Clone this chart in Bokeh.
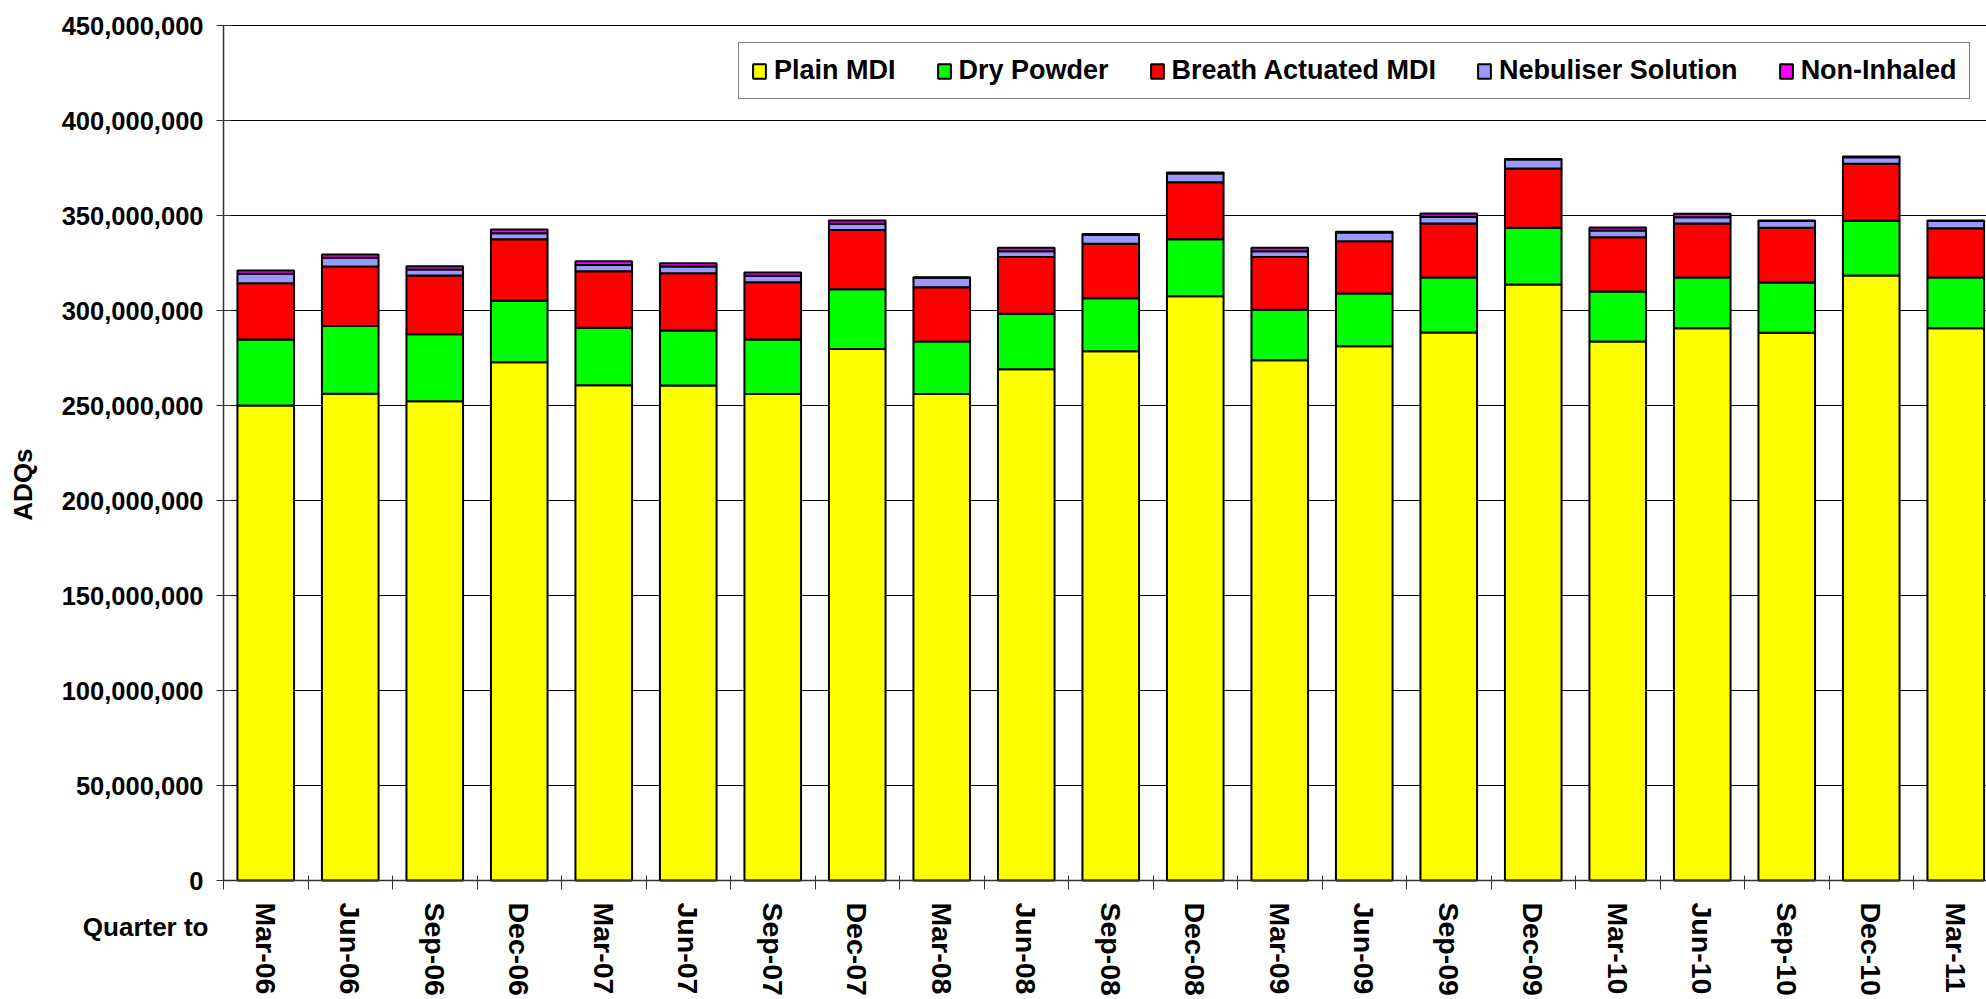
import math
from bokeh.plotting import figure
from bokeh.models import (Range1d, FixedTicker, NumeralTickFormatter, Label, Grid,
                          ColumnDataSource)
from bokeh.embed import file_html
from bokeh.resources import INLINE

quarters = ["Mar-06", "Jun-06", "Sep-06", "Dec-06", "Mar-07", "Jun-07", "Sep-07", "Dec-07",
            "Mar-08", "Jun-08", "Sep-08", "Dec-08", "Mar-09", "Jun-09", "Sep-09", "Dec-09",
            "Mar-10", "Jun-10", "Sep-10", "Dec-10", "Mar-11"]

# values in millions of ADQs
plain_mdi = [250.0, 256.2, 252.3, 272.8, 260.7, 260.5, 256.0, 279.8, 256.0, 269.1, 278.6,
             307.5, 273.8, 281.2, 288.4, 313.7, 283.7, 290.7, 288.3, 318.4, 290.7]
dry_powder = [34.7, 35.7, 35.2, 32.3, 30.2, 29.0, 28.7, 31.4, 27.7, 29.2, 27.9,
              30.0, 26.6, 27.7, 29.0, 29.8, 26.3, 26.7, 26.4, 28.8, 26.7]
breath_actuated = [29.7, 31.3, 30.9, 32.4, 29.8, 30.1, 30.2, 31.2, 28.6, 29.8, 28.6,
                   30.0, 27.7, 27.6, 28.4, 31.2, 28.6, 28.4, 28.8, 30.0, 25.9]
nebuliser = [4.9, 4.5, 3.2, 3.2, 3.3, 3.6, 3.4, 3.2, 5.0, 3.1, 4.8,
             4.6, 3.1, 4.6, 3.5, 4.8, 3.5, 3.3, 3.6, 3.5, 3.8]
non_inhaled = [1.8, 1.8, 1.7, 1.9, 1.9, 1.7, 1.7, 1.8, 0.2, 1.8, 0.3,
               0.5, 1.8, 0.4, 1.8, 0.3, 1.6, 1.8, 0.3, 0.4, 0.3]

series_names = ["Plain MDI", "Dry Powder", "Breath Actuated MDI", "Nebuliser Solution", "Non-Inhaled"]
series_values = [plain_mdi, dry_powder, breath_actuated, nebuliser, non_inhaled]
colors = ["#FFFF00", "#00FF00", "#FF0000", "#9999FF", "#FF00FF"]
y_ticks = [0, 50_000_000, 100_000_000, 150_000_000, 200_000_000, 250_000_000,
           300_000_000, 350_000_000, 400_000_000, 450_000_000]
y_title = "ADQs"
x_title = "Quarter to"

FONT = "Liberation Sans"
W, H = 1986, 999

# pixel geometry of the plotting area inside the picture
AX_LEFT, AX_BOTTOM, AX_TOP = 223, 880, 25
PX_PER_CAT = 84.5
Y_MAX = y_ticks[-1]
px_per_val = (AX_BOTTOM - AX_TOP) / Y_MAX

x0 = -0.5 - AX_LEFT / PX_PER_CAT
x1 = -0.5 + (W - AX_LEFT) / PX_PER_CAT
y0 = -(H - AX_BOTTOM) / px_per_val
y1 = AX_BOTTOM / px_per_val

xs = list(range(len(quarters)))
keys = ["s%d" % i for i in range(len(series_names))]
data = {"x": xs}
for k, vals in zip(keys, series_values):
    data[k] = [v * 1e6 for v in vals]
source = ColumnDataSource(data)

p = figure(width=W, height=H, output_backend="svg", toolbar_location=None,
           x_range=Range1d(x0, x1), y_range=Range1d(y0, y1),
           min_border_left=0, min_border_top=0, min_border_bottom=0, min_border_right=0)
p.outline_line_color = None
p.background_fill_color = "white"
p.border_fill_color = "white"

# grid lines only across the plotting area
has_cross = "cross_bounds" in Grid.properties()
p.xgrid.grid_line_color = None
if has_cross:
    p.ygrid.ticker = FixedTicker(ticks=y_ticks)
    p.ygrid.bounds = (0, Y_MAX)
    p.ygrid.cross_bounds = (-0.5, x1)
    p.ygrid.grid_line_color = "black"
    p.ygrid.grid_line_width = 1
else:
    p.ygrid.grid_line_color = None
    gl = p.segment(x0=[-0.5] * len(y_ticks), x1=[x1] * len(y_ticks), y0=y_ticks, y1=y_ticks,
                   line_color="black", line_width=1)
    gl.level = "underlay"

p.vbar_stack(keys, x="x", width=0.67, color=colors, line_color="black", line_width=2,
             source=source, legend_label=series_names)

# y axis, pinned at the left edge of the bars area
p.yaxis.fixed_location = -0.5
p.yaxis.bounds = (0, Y_MAX)
p.yaxis.ticker = FixedTicker(ticks=y_ticks)
p.yaxis.formatter = NumeralTickFormatter(format="0,0")
p.yaxis.major_label_text_font = FONT
p.yaxis.major_label_text_font_style = "bold"
p.yaxis.major_label_text_font_size = "25.5px"
p.yaxis.major_label_text_color = "black"
p.yaxis.major_tick_out = 7
p.yaxis.major_tick_in = 8
p.yaxis.major_label_standoff = 13
p.yaxis.minor_tick_line_color = None
p.yaxis.axis_line_color = "#333333"
p.yaxis.axis_line_width = 1.5
p.yaxis.major_tick_line_color = "#333333"

# x axis at value 0
p.xaxis.fixed_location = 0
p.xaxis.bounds = (-0.5, x1)
p.xaxis.ticker = FixedTicker(ticks=xs, minor_ticks=[i - 0.5 for i in range(len(quarters) + 1)])
p.xaxis.major_label_overrides = {i: q for i, q in zip(xs, quarters)}
p.xaxis.major_label_orientation = -math.pi / 2
p.xaxis.major_label_text_font = FONT
p.xaxis.major_label_text_font_style = "bold"
p.xaxis.major_label_text_font_size = "28.5px"
p.xaxis.major_label_text_color = "black"
p.xaxis.major_tick_out = 0
p.xaxis.major_tick_in = 0
p.xaxis.minor_tick_out = 9
p.xaxis.minor_tick_in = 5
p.xaxis.minor_tick_line_color = "#333333"
p.xaxis.major_label_standoff = 13
p.xaxis.axis_line_color = "#333333"
p.xaxis.axis_line_width = 1.5

# axis titles
p.add_layout(Label(x=-0.5 + (22 - AX_LEFT) / PX_PER_CAT, y=208_400_000, text=y_title,
                   angle=math.pi / 2, text_align="center", text_baseline="middle",
                   text_font=FONT, text_font_style="bold", text_font_size="26px",
                   text_color="black"))
p.add_layout(Label(x=-0.5 + (208 - AX_LEFT) / PX_PER_CAT, y=-24_700_000, text=x_title,
                   text_align="right", text_baseline="middle",
                   text_font=FONT, text_font_style="bold", text_font_size="26px",
                   text_color="black"))

# legend
lg = p.legend[0]
lg.orientation = "horizontal"
lg.location = (738, H - 99)
lg.margin = 0
lg.padding = 12
lg.spacing = 40
lg.label_standoff = 7
lg.glyph_width = 16
lg.glyph_height = 18
lg.label_text_font = FONT
lg.label_text_font_style = "bold"
lg.label_text_font_size = "27px"
lg.label_text_color = "black"
lg.border_line_color = "black"
lg.border_line_width = 1
lg.background_fill_alpha = 1

open("out.html", "w").write(file_html(p, INLINE))
